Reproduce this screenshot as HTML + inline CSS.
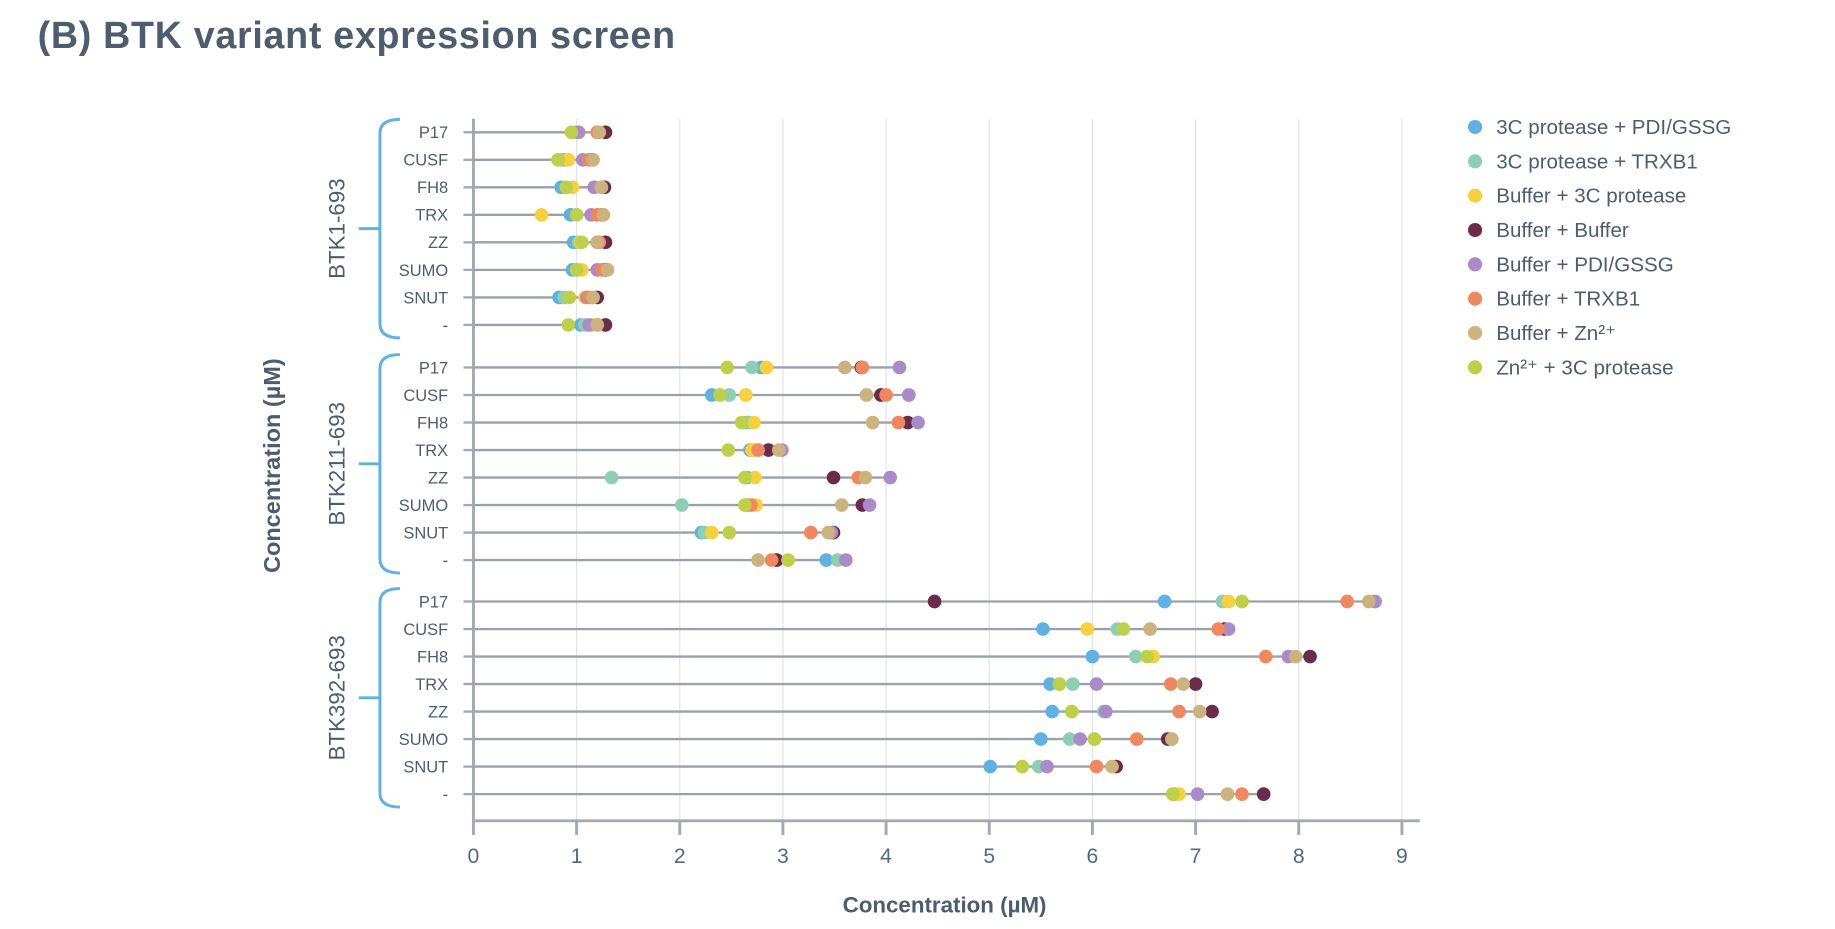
<!DOCTYPE html>
<html><head><meta charset="utf-8"><style>
html,body{margin:0;padding:0;background:#fff;}
svg{display:block;font-family:"Liberation Sans",sans-serif;}
</style></head><body>
<svg id="chart" width="1835" height="929" viewBox="0 0 1560 790" preserveAspectRatio="none" xmlns="http://www.w3.org/2000/svg">
<text x="32" y="41" font-size="32" font-weight="bold" fill="#4b5d6e" letter-spacing="0.6">(B) BTK variant expression screen</text>
<g id="grid"></g><g id="axes"></g><g id="rows"></g><g id="legend"></g>
<text x="803" y="776" font-size="19" font-weight="bold" fill="#4b5d6e" text-anchor="middle">Concentration (µM)</text>
<text transform="translate(238,396) rotate(-90)" font-size="20" font-weight="bold" fill="#4b5d6e" text-anchor="middle">Concentration (µM)</text>
</svg>
<script>
const groups = ["BTK1-693","BTK211-693","BTK392-693"];
const constructs = ["P17","CUSF","FH8","TRX","ZZ","SUMO","SNUT","-"];
const series = ["3C protease + PDI/GSSG","3C protease + TRXB1","Buffer + 3C protease","Buffer + Buffer","Buffer + PDI/GSSG","Buffer + TRXB1","Buffer + Zn²⁺","Zn²⁺ + 3C protease"];
const xTicks = [0,1,2,3,4,5,6,7,8,9];
const btk1 = [
[1.0,1.0,1.2,1.28,1.02,1.2,1.22,0.95],
[0.88,0.85,0.92,1.15,1.06,1.12,1.16,0.82],
[0.85,0.9,0.96,1.27,1.17,1.24,1.24,0.9],
[0.94,1.0,0.66,1.25,1.14,1.2,1.26,1.0],
[0.97,1.02,1.04,1.28,1.2,1.22,1.2,1.05],
[0.96,1.0,1.05,1.28,1.2,1.25,1.3,1.0],
[0.83,0.88,1.08,1.2,1.1,1.12,1.16,0.93],
[1.04,1.08,1.15,1.28,1.12,1.2,1.2,0.92]];
const btk211 = [
[2.79,2.7,2.84,3.76,4.13,3.77,3.6,2.46],
[2.31,2.48,2.64,3.95,4.22,4.0,3.81,2.39],
[2.65,2.67,2.72,4.21,4.31,4.12,3.87,2.6],
[2.68,2.72,2.7,2.86,2.99,2.76,2.96,2.47],
[2.65,1.34,2.73,3.49,4.04,3.73,3.8,2.63],
[2.65,2.02,2.74,3.77,3.84,2.69,3.57,2.63],
[2.21,2.24,2.31,3.49,3.47,3.27,3.44,2.48],
[3.42,3.53,2.92,2.94,3.61,2.89,2.76,3.05]];
const btk392 = [
[6.7,7.26,7.32,4.47,8.74,8.47,8.68,7.45],
[5.52,6.24,5.95,7.28,7.32,7.22,6.56,6.3],
[6.0,6.42,6.59,8.11,7.9,7.68,7.97,6.53],
[5.59,5.81,5.68,7.0,6.04,6.76,6.88,5.68],
[5.61,6.11,5.8,7.16,6.13,6.84,7.04,5.8],
[5.5,5.78,6.02,6.73,5.88,6.43,6.77,6.02],
[5.01,5.48,5.32,6.23,5.56,6.04,6.19,5.32],
[6.78,6.8,6.84,7.66,7.02,7.45,7.31,6.78]];
const values = [btk1, btk211, btk392];
const colors = ["#5eb0e5","#8ecfb3","#f6d03d","#6a2c4b","#a98bc9","#f0875f","#ccb27c","#bdd048"];
const NS="http://www.w3.org/2000/svg";
const X0=402.5, UNIT=87.7, AXIS_Y=698, ROW=23.4;
const groupTop=[112.5,312.5,511.5];
const xs=v=>X0+v*UNIT;
const ys=(g,r)=>groupTop[g]+r*ROW;
function mk(tag,attrs,parent,text){const e=document.createElementNS(NS,tag);for(const k in attrs)e.setAttribute(k,attrs[k]);if(text!==undefined)e.textContent=text;parent.appendChild(e);return e;}
const grid=document.getElementById('grid'),axes=document.getElementById('axes'),rows=document.getElementById('rows'),legend=document.getElementById('legend');
xTicks.forEach(t=>{
  if(t>0){const l=mk('line',{x1:xs(t),x2:xs(t),y1:101,y2:AXIS_Y,stroke:'#e1e3e6','stroke-width':1},grid);
  
  }
  const tk=mk('line',{x1:xs(t),x2:xs(t),y1:AXIS_Y,y2:AXIS_Y+12,stroke:'#a3a9b2','stroke-width':2.5},axes);
  
  
  const tl=mk('text',{x:xs(t),y:734,'font-size':18,fill:'#4e6a85','text-anchor':'middle'},axes,String(t));
  
  
});
const xa=mk('line',{x1:X0,x2:1207,y1:AXIS_Y,y2:AXIS_Y,stroke:'#a3a9b2','stroke-width':2.5},axes);


const ya=mk('line',{x1:X0,x2:X0,y1:101,y2:AXIS_Y,stroke:'#a3a9b2','stroke-width':2.5},axes);


groups.forEach((gname,g)=>{
  const top=groupTop[g]-11, bot=groupTop[g]+7*ROW+11, mid=(top+bot)/2;
  const br=mk('path',{d:`M340 ${top} Q323 ${top} 323 ${top+12} L323 ${bot-12} Q323 ${bot} 340 ${bot} M305 ${mid} L323 ${mid}`,fill:'none',stroke:'#5eb0e5','stroke-width':2.5},axes);
  
  
  const gl=mk('text',{transform:`translate(293,${mid}) rotate(-90)`,'font-size':19,fill:'#4b5d6e','text-anchor':'middle'},axes,gname);
  
  
  constructs.forEach((c,r)=>{
    const y=ys(g,r), vals=values[g][r];
    const tk=mk('line',{x1:394,x2:X0,y1:y,y2:y,stroke:'#a3a9b2','stroke-width':2},axes);
    
    
    const lb=mk('text',{x:381,y:y+5,'font-size':14,fill:'#4b5d6e','text-anchor':'end'},axes,c);
    
    
    const ln=mk('line',{x1:X0,x2:xs(Math.max(...vals)),y1:y,y2:y,stroke:'#9aa1ab','stroke-width':2},rows);
    
    
    vals.forEach((v,i)=>{
      const d=mk('circle',{cx:xs(v),cy:y,r:5.8,fill:colors[i]},rows);
      
      
    });
  });
});
series.forEach((s,i)=>{
  const y=108+i*29.2;
  const d=mk('circle',{cx:1254,cy:y,r:6,fill:colors[i]},legend);
  
  
  const t=mk('text',{x:1272,y:y+6,'font-size':17.5,fill:'#4b5d6e'},legend,s);
  
  
});
</script>
</body></html>
